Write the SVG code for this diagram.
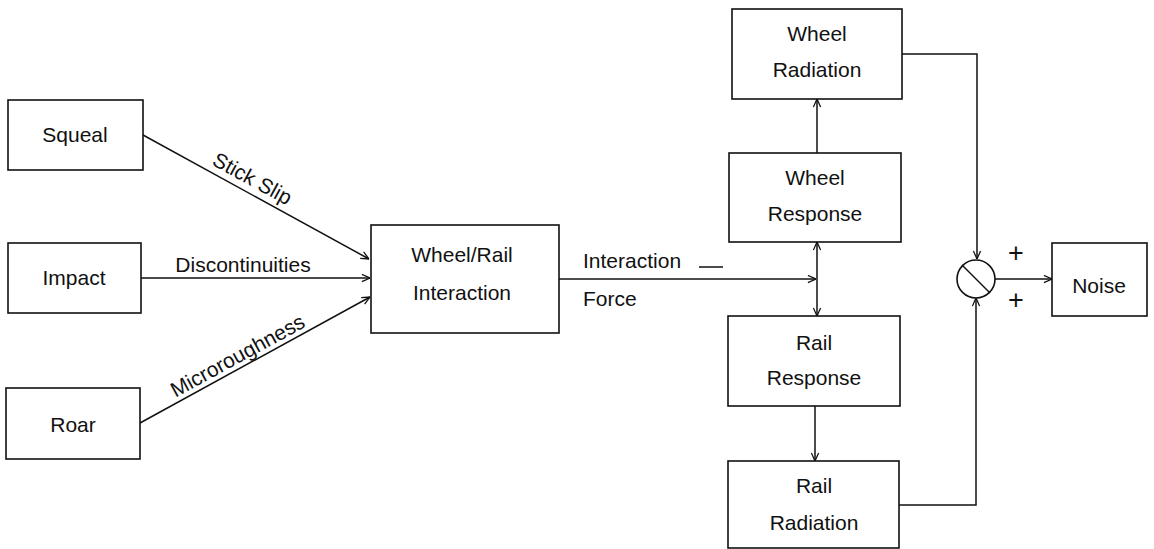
<svg xmlns="http://www.w3.org/2000/svg" width="1154" height="549" viewBox="0 0 1154 549">
<style>
.box{fill:#fff;stroke:#111;stroke-width:1.6}
.ln{fill:none;stroke:#111;stroke-width:1.5}
text{font-family:"Liberation Sans",Arial,sans-serif;font-size:21px;fill:#111}
.c{text-anchor:middle}
.pl{font-size:27px}
</style>
<defs>
<marker id="ah" viewBox="0 0 10 10" refX="10" refY="5" markerWidth="9" markerHeight="9" markerUnits="userSpaceOnUse" orient="auto-start-reverse">
<path d="M1,1 L10,5 L1,9" fill="none" stroke="#111" stroke-width="1.4"/>
</marker>
</defs>
<rect width="1154" height="549" fill="#fff"/>
<g id="connectors">
<line class="ln" x1="143" y1="135" x2="369" y2="259" marker-end="url(#ah)"/>
<line class="ln" x1="141" y1="278" x2="370" y2="278" marker-end="url(#ah)"/>
<line class="ln" x1="140" y1="423" x2="370" y2="297" marker-end="url(#ah)"/>
<text x="249" y="185" class="c" transform="rotate(28.6 249 185)">Stick Slip</text>
<text x="243" y="272" class="c">Discontinuities</text>
<text x="241" y="362" class="c" transform="rotate(-28.6 241 362)">Microroughness</text>
<line class="ln" x1="559" y1="279" x2="816" y2="279" marker-end="url(#ah)"/>
<text x="583" y="268">Interaction</text>
<line class="ln" x1="699" y1="267" x2="723" y2="267" stroke-width="1.2"/>
<text x="583" y="306">Force</text>
<line class="ln" x1="817" y1="153" x2="817" y2="99" marker-end="url(#ah)"/>
<line class="ln" x1="817" y1="242" x2="817" y2="316" marker-start="url(#ah)" marker-end="url(#ah)"/>
<line class="ln" x1="815" y1="406" x2="815" y2="461" marker-end="url(#ah)"/>
<polyline class="ln" points="902,54 977,54 977,259" marker-end="url(#ah)"/>
<polyline class="ln" points="899,505 976,505 976,298" marker-end="url(#ah)"/>
<line class="ln" x1="995" y1="279" x2="1052" y2="279" marker-end="url(#ah)"/>
<text x="1016" y="262" class="c pl">+</text>
<text x="1016" y="309" class="c pl">+</text>
</g>
<g id="squeal"><rect class="box" x="8" y="100" width="135" height="70"/><text x="75" y="142" class="c">Squeal</text></g>
<g id="impact"><rect class="box" x="8" y="243" width="133" height="70"/><text x="74" y="285" class="c">Impact</text></g>
<g id="roar"><rect class="box" x="6" y="388" width="134" height="71"/><text x="73" y="432" class="c">Roar</text></g>
<g id="interaction"><rect class="box" x="371" y="225" width="188" height="108"/><text x="462" y="262" class="c">Wheel/Rail</text><text x="462" y="300" class="c">Interaction</text></g>
<g id="wheel-radiation"><rect class="box" x="732" y="9" width="170" height="90"/><text x="817" y="41" class="c">Wheel</text><text x="817" y="77" class="c">Radiation</text></g>
<g id="wheel-response"><rect class="box" x="729" y="153" width="172" height="89"/><text x="815" y="185" class="c">Wheel</text><text x="815" y="221" class="c">Response</text></g>
<g id="rail-response"><rect class="box" x="728" y="316" width="172" height="90"/><text x="814" y="350" class="c">Rail</text><text x="814" y="385" class="c">Response</text></g>
<g id="rail-radiation"><rect class="box" x="728" y="461" width="171" height="87"/><text x="814" y="493" class="c">Rail</text><text x="814" y="530" class="c">Radiation</text></g>
<g id="summer"><circle cx="976" cy="279" r="19" fill="#fff" stroke="#111" stroke-width="1.6"/><line class="ln" x1="962" y1="265" x2="990" y2="293"/></g>
<g id="noise"><rect class="box" x="1052" y="243" width="95" height="73"/><text x="1099" y="293" class="c">Noise</text></g>
</svg>
